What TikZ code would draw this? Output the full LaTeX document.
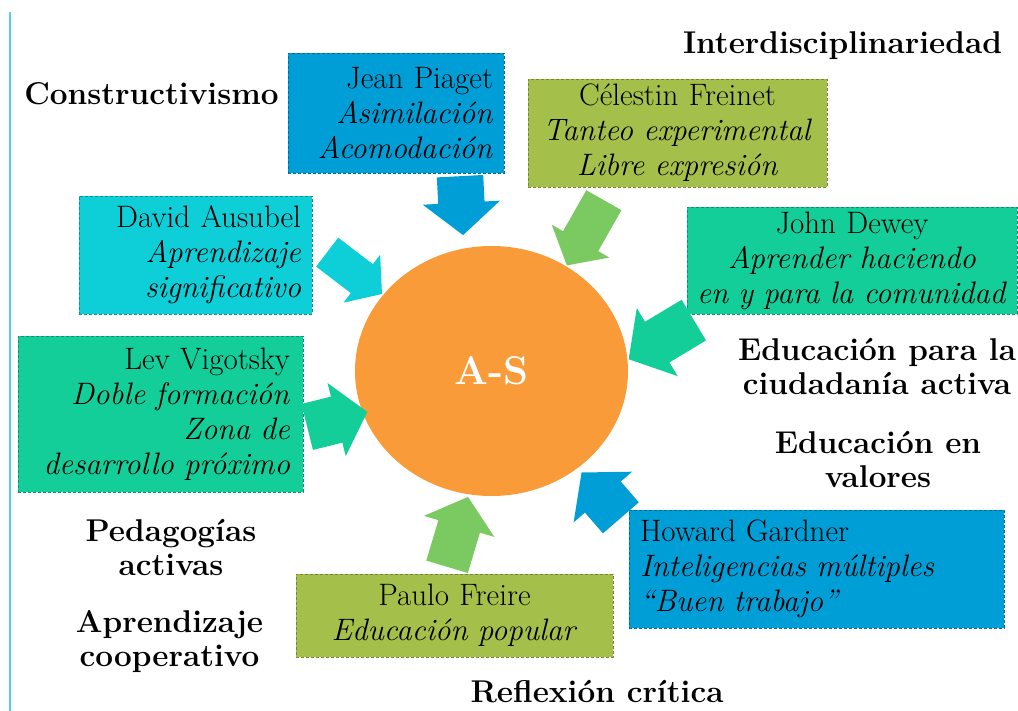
\documentclass[tikz,border=0pt]{standalone}
\usepackage{fontspec}
\usepackage{xcolor}
\usepackage{tikz}
\usetikzlibrary{shapes.geometric,shapes.arrows}

\definecolor{piagetblue}{HTML}{009ED6}
\definecolor{ausubelcyan}{HTML}{0ECED8}
\definecolor{freinetolive}{HTML}{A5C04A}
\definecolor{deweyteal}{HTML}{13CE99}
\definecolor{freirelight}{HTML}{7BCA61}
\definecolor{asorange}{HTML}{F99B38}
\definecolor{sideline}{HTML}{58CFDD}

\begin{document}
\begin{tikzpicture}[x=1pt,y=-1pt]
	\tikzset{author/.style={draw=#1!70!black, fill=#1, densely dashed, line width=0.6pt, inner xsep=11pt, inner ysep=0pt, font=\fontsize{31}{35}\selectfont}}
	\tikzset{push/.style={single arrow, fill=#1, draw=none, inner xsep=0pt, single arrow tip angle=100, single arrow head indent=0pt, anchor=tail}}
	\tikzstyle{idea} = [font=\fontsize{31.5}{34}\selectfont\bfseries, align=center, inner sep=0pt]
	\tikzstyle{center} = [ellipse, fill=asorange, inner sep=0pt, text=white, font=\fontsize{40}{44}\selectfont\bfseries]
	
	\useasboundingbox (0,0) rectangle (1018,711);
	\draw[sideline, line width=2pt] (10,12) -- (10,711);
	
	\node[center, minimum width=273pt, minimum height=250pt](as) at (491.5,371) {A-S};
	
	\node[author=piagetblue, text width=194pt, minimum height=120pt, align=right](piaget) at (396,113) {Jean Piaget\\ \textit{Asimilación}\\ \textit{Acomodación}};
	\node[author=freinetolive, text width=277pt, minimum height=108pt, align=center](freinet) at (677.5,133) {Célestin Freinet\\ \textit{Tanteo experimental}\\ \textit{Libre expresión}};
	\node[author=ausubelcyan, text width=211pt, minimum height=118pt, align=right](ausubel) at (195.5,255) {David Ausubel\\ \textit{Aprendizaje}\\ \textit{significativo}};
	\node[author=deweyteal, inner xsep=6pt, text width=318pt, minimum height=107pt, align=center](dewey) at (852,260.5) {John Dewey\\ \textit{Aprender haciendo}\\ \textit{en y para la comunidad}};
	\node[author=deweyteal, inner xsep=13pt, text width=259pt, minimum height=156pt, align=right](vigotsky) at (160.5,414) {Lev Vigotsky\\ \textit{Doble formación}\\ \textit{Zona de}\\ \textit{desarrollo próximo}};
	\node[author=piagetblue, text width=353pt, minimum height=118pt, align=left](gardner) at (816.5,569) {Howard Gardner\\ \textit{Inteligencias múltiples}\\ \textit{“Buen trabajo”}};
	\node[author=freinetolive, text width=295pt, minimum height=83pt, align=center](freire) at (454.5,615.5) {Paulo Freire\\ \textit{Educación popular}};
	
	\node[push=piagetblue, rotate=-87, minimum height=59pt, inner ysep=23pt, single arrow head extend=15.5pt](piagetarrow) at (460,176) {};
	\node[push=freirelight, rotate=-119.6, minimum height=75pt, inner ysep=20pt, single arrow head extend=13pt](freinetarrow) at (604,200) {};
	\node[push=ausubelcyan, rotate=-37.4, minimum height=69pt, inner ysep=18pt, single arrow head extend=12pt](ausubelarrow) at (327,252) {};
	\node[push=deweyteal, rotate=-149, minimum height=76pt, inner ysep=23.5pt, single arrow head extend=16pt](deweyarrow) at (694,320) {};
	\node[push=deweyteal, rotate=14, minimum height=62pt, inner ysep=23.5pt, single arrow head extend=14pt](vigotskyarrow) at (307,427) {};
	\node[push=freirelight, rotate=73.3, minimum height=73pt, inner ysep=21.5pt, single arrow head extend=15pt](freirearrow) at (447,567) {};
	\node[push=piagetblue, rotate=130.9, minimum height=60pt, inner ysep=23.5pt, single arrow head extend=15pt](gardnerarrow) at (621,518) {};
	
	\node[idea, anchor=base](constructivismo) at (151.5,105) {Constructivismo};
	\node[idea, anchor=base](interdisciplina) at (842.5,54) {Interdisciplinariedad};
	\node[idea](ciudadania) at (877,367) {Educación para la\\ ciudadanía activa};
	\node[idea](valores) at (878,459.5) {Educación en\\ valores};
	\node[idea](pedagogias) at (171,548) {Pedagogías\\ activas};
	\node[idea](cooperativo) at (169.5,642) {Aprendizaje\\ cooperativo};
	\node[idea, anchor=base](reflexion) at (597,702) {Reflexión crítica};
	
\end{tikzpicture}
\end{document}
